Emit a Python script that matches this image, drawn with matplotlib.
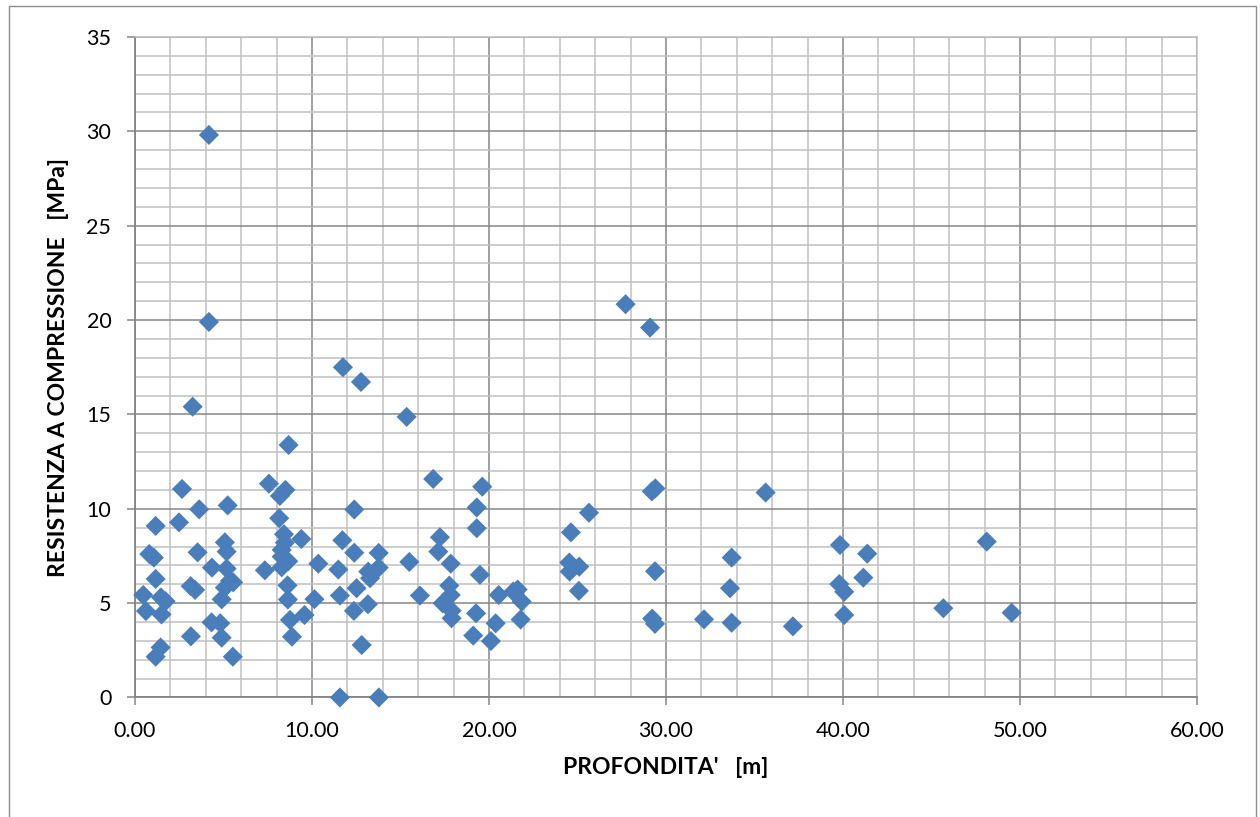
#!/usr/bin/env python3
"""Scatter of compressive strength against depth (Excel-style chart)."""

import matplotlib

matplotlib.use("Agg")
import matplotlib.pyplot as plt
from matplotlib.patches import Rectangle
from matplotlib.ticker import FormatStrFormatter, MultipleLocator

# depth [m] and compressive strength [MPa]
depth_m = [
    0.47, 0.62, 0.81, 1.07, 1.17, 1.17, 1.47, 1.73, 1.50, 1.45, 1.17,
    2.49, 2.66, 3.26, 3.63, 3.54, 3.15, 3.40, 3.16, 4.18, 4.18,
    5.24, 5.08, 5.18, 4.35, 5.18, 5.37, 5.08, 4.90, 4.33, 4.82, 4.90, 5.53, 5.55,
    7.34, 7.57, 8.19, 8.50, 8.15, 8.42, 8.47, 9.40, 8.68, 8.29, 8.29, 8.66,
    8.29, 8.62, 8.64, 8.76, 9.58, 8.87,
    10.36, 10.14, 11.49, 11.58, 11.72, 12.39, 12.39, 12.52, 12.37, 12.81,
    13.16, 13.18, 13.28, 13.77, 13.77, 11.58, 13.78, 11.75, 12.77,
    15.35, 16.85, 19.62, 19.31, 19.31, 17.23, 17.14, 17.84, 15.50, 19.49,
    16.10, 17.76, 17.84, 17.38, 17.89, 17.89, 19.27, 19.11, 20.38, 20.11,
    20.55, 21.37, 21.62, 21.85, 21.79,
    27.72, 29.10, 29.20, 29.40, 25.65, 24.63, 24.54, 25.10, 24.56, 25.08,
    29.38, 29.22, 29.38,
    32.15, 33.71, 33.62, 33.71, 35.63, 37.17, 39.83, 41.37, 41.15, 39.79,
    40.07, 40.07, 45.67, 48.12, 49.53,
]
strength_mpa = [
    5.43, 4.58, 7.60, 7.41, 9.09, 6.28, 5.30, 5.10, 4.40, 2.65, 2.16,
    9.28, 11.05, 15.41, 9.97, 7.69, 5.90, 5.70, 3.24, 29.81, 19.90,
    10.18, 8.22, 7.73, 6.88, 6.83, 6.18, 5.82, 5.20, 3.98, 3.93, 3.17, 2.16, 6.10,
    6.74, 11.33, 10.68, 11.00, 9.50, 8.65, 8.20, 8.40, 13.38, 7.82, 7.46, 7.22,
    6.90, 5.94, 5.19, 4.11, 4.37, 3.22,
    7.09, 5.21, 6.78, 5.40, 8.33, 9.96, 7.67, 5.79, 4.59, 2.78,
    4.94, 6.67, 6.32, 6.88, 7.66, 0.00, 0.00, 17.50, 16.72,
    14.87, 11.58, 11.17, 10.07, 8.97, 8.49, 7.73, 7.09, 7.18, 6.50,
    5.40, 5.93, 5.43, 4.99, 4.60, 4.20, 4.46, 3.28, 3.93, 2.99,
    5.43, 5.61, 5.72, 5.08, 4.13,
    20.84, 19.60, 10.92, 11.08, 9.79, 8.75, 7.15, 6.93, 6.67, 5.65,
    6.69, 4.18, 3.90,
    4.14, 7.41, 5.79, 3.96, 10.86, 3.77, 8.08, 7.62, 6.35, 6.01,
    5.60, 4.37, 4.73, 8.26, 4.49,
]

x_label = "PROFONDITA'   [m]"
y_label = "RESISTENZA A COMPRESSIONE   [MPa]"

MARKER_COLOR = "#4A7EBB"
MAJOR_GRID = "#868686"
MINOR_GRID = "#C0C0C0"


def main():
    plt.rcParams["font.family"] = ["Lato", "DejaVu Sans"]

    fig = plt.figure(figsize=(12.6, 8.17), dpi=100)
    ax = fig.add_axes([0.1071, 0.1463, 0.8429, 0.8084])

    ax.scatter(depth_m, strength_mpa, marker="D", s=105, color=MARKER_COLOR,
               edgecolors="none", zorder=3, clip_on=False)

    ax.set_xlim(0, 60)
    ax.set_ylim(0, 35)
    ax.xaxis.set_major_locator(MultipleLocator(10))
    ax.xaxis.set_minor_locator(MultipleLocator(2))
    ax.yaxis.set_major_locator(MultipleLocator(5))
    ax.yaxis.set_minor_locator(MultipleLocator(1))
    ax.xaxis.set_major_formatter(FormatStrFormatter("%.2f"))
    ax.yaxis.set_major_formatter(FormatStrFormatter("%d"))

    ax.grid(which="major", color=MAJOR_GRID, linewidth=1.1, zorder=1)
    ax.grid(which="minor", color=MINOR_GRID, linewidth=1.1, zorder=0)
    ax.set_axisbelow(True)

    ax.tick_params(which="major", direction="out", length=6, width=1.1,
                   color=MAJOR_GRID, labelsize=15.5, pad=11)
    ax.tick_params(which="minor", length=0)
    for side in ("top", "right"):
        ax.spines[side].set_color(MINOR_GRID)
        ax.spines[side].set_linewidth(1.1)
    for side in ("left", "bottom"):
        ax.spines[side].set_color(MAJOR_GRID)
        ax.spines[side].set_linewidth(1.3)

    ax.set_xlabel(x_label, fontsize=16.5, fontweight="bold")
    ax.set_ylabel(y_label, fontsize=16.5, fontweight="bold")
    ax.xaxis.set_label_coords(0.5, -0.09)
    ax.yaxis.set_label_coords(-0.062, 0.5)

    # chart-area frame, bottom edge falls outside the picture
    frame = Rectangle((9 / 1260, -0.02), 1247 / 1260, 1.02 - 6 / 817,
                      transform=fig.transFigure, fill=False,
                      edgecolor="#8C8C8C", linewidth=1.0)
    fig.patches.append(frame)

    fig.savefig("out.png", dpi=100)
    plt.close(fig)


if __name__ == "__main__":
    main()
